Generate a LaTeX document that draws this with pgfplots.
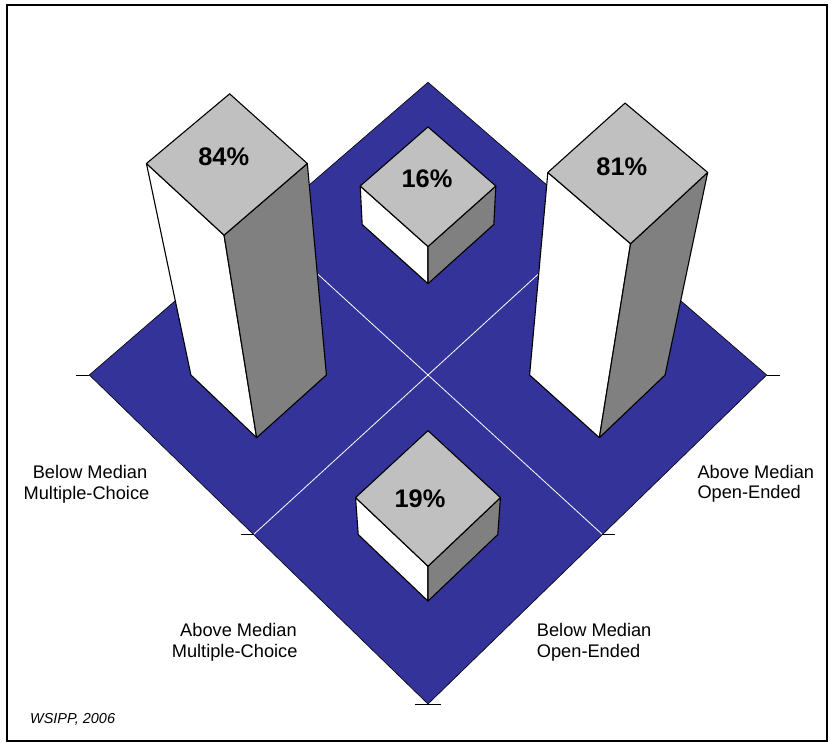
\documentclass[border=0pt]{standalone}
\usepackage{pgfplots}
\pgfplotsset{compat=1.18}
\usepackage{pgfplotstable}
\usepackage{fontspec}
\setmainfont{Liberation Sans}
\definecolor{floorblue}{HTML}{333399}
\definecolor{topgray}{HTML}{C0C0C0}
\definecolor{sidegray}{HTML}{808080}

% bar faces: offsets from the bar centre, zf = fraction of the bar height
\pgfplotstableread{
dx dy zf
-0.2 0 0
0 -0.2 0
0 -0.2 1
-0.2 0 1
-0.2 0 0
}\leftface
\pgfplotstableread{
dx dy zf
0 -0.2 0
0.2 0 0
0.2 0 1
0 -0.2 1
0 -0.2 0
}\rightface
\pgfplotstableread{
dx dy zf
-0.2 0 1
0 0.2 1
0.2 0 1
0 -0.2 1
-0.2 0 1
}\topface

\newcommand{\drawface}[5]{%
  \addplot[fill=#1, draw=black, line width=1.1bp, line join=round]
    table[x expr={px(#3+\thisrow{dx},#4+\thisrow{dy},#5*\thisrow{zf})},
          y expr={py(#3+\thisrow{dx},#4+\thisrow{dy},#5*\thisrow{zf})}] {#2};
}
\newcommand{\drawbar}[3]{%
  \drawface{white}{\leftface}{#1}{#2}{#3}
  \drawface{sidegray}{\rightface}{#1}{#2}{#3}
  \drawface{topgray}{\topface}{#1}{#2}{#3}
}
\newcommand{\lab}{\fontsize{18.3}{21}\selectfont}

\begin{document}
\begin{tikzpicture}[declare function={
  px(\X,\Y,\Z)=428+338.7*\X/(1+0.0584*\Y-0.00188*\Z);
  py(\X,\Y,\Z)=367+(309.8*\Y+2.12*\Z)/(1+0.0584*\Y-0.00188*\Z);}]
\begin{axis}[width=830bp, height=742bp, scale only axis,
  xmin=0, xmax=830, ymin=0, ymax=742, hide axis, clip=false]
\path (axis cs:0,0) rectangle (axis cs:830,742);
% frame
\draw[line width=2bp] (axis cs:6.5,1) rectangle (axis cs:826.5,736.5);

% floor
\addplot[fill=floorblue, draw=black, line width=0.6bp]
  table[x expr={px(\thisrow{X},\thisrow{Y},0)}, y expr={py(\thisrow{X},\thisrow{Y},0)}] {
X Y
-1 0
0 -1
1 0
0 1
-1 0
};
% dividing lines
\addplot[white, line width=0.8bp]
  table[x expr={px(\thisrow{X},\thisrow{Y},0)}, y expr={py(\thisrow{X},\thisrow{Y},0)}] {
X Y
-0.5 0.5
0.5 -0.5
};
\addplot[white, line width=0.8bp]
  table[x expr={px(\thisrow{X},\thisrow{Y},0)}, y expr={py(\thisrow{X},\thisrow{Y},0)}] {
X Y
0.5 0.5
-0.5 -0.5
};
% tick marks
\addplot[black, line width=0.7bp]
  table[x expr={px(\thisrow{X},\thisrow{Y},0)+\thisrow{off}}, y expr={py(\thisrow{X},\thisrow{Y},0)}] {
X Y off
-1 0 0
-1 0 -13
};
\addplot[black, line width=0.7bp]
  table[x expr={px(\thisrow{X},\thisrow{Y},0)+\thisrow{off}}, y expr={py(\thisrow{X},\thisrow{Y},0)}] {
X Y off
-0.5 -0.5 0
-0.5 -0.5 -13
};
\addplot[black, line width=0.7bp]
  table[x expr={px(\thisrow{X},\thisrow{Y},0)+\thisrow{off}}, y expr={py(\thisrow{X},\thisrow{Y},0)}] {
X Y off
0 -1 -13
0 -1 13
};
\addplot[black, line width=0.7bp]
  table[x expr={px(\thisrow{X},\thisrow{Y},0)+\thisrow{off}}, y expr={py(\thisrow{X},\thisrow{Y},0)}] {
X Y off
0.5 -0.5 0
0.5 -0.5 13
};
\addplot[black, line width=0.7bp]
  table[x expr={px(\thisrow{X},\thisrow{Y},0)+\thisrow{off}}, y expr={py(\thisrow{X},\thisrow{Y},0)}] {
X Y off
1 0 0
1 0 13
};

% bars: centre x, centre y, value (%)
\drawbar{0}{0.5}{16}
\drawbar{-0.5}{0}{84}
\drawbar{0.5}{0}{81}
\drawbar{0}{-0.5}{19}

% value labels
\begin{scope}[every node/.style={font=\fontsize{25.5}{30}\selectfont\bfseries, inner sep=0pt}]
\node at (axis cs:223.7,585.2) {84\%};
\node at (axis cs:621.8,575) {81\%};
\node at (axis cs:427,563) {16\%};
\node at (axis cs:420,243) {19\%};
\end{scope}

% category labels
\begin{scope}[every node/.style={font=\lab, inner sep=0pt}]
\node[anchor=base east] at (axis cs:147.5,263.7) {Below Median};
\node[anchor=base east] at (axis cs:149.5,242.7) {Multiple-Choice};
\node[anchor=base east] at (axis cs:297,105.3) {Above Median};
\node[anchor=base east] at (axis cs:297.7,84.7) {Multiple-Choice};
\node[anchor=base west] at (axis cs:536.7,105.3) {Below Median};
\node[anchor=base west] at (axis cs:536.7,84.7) {Open-Ended};
\node[anchor=base west] at (axis cs:697.3,263.7) {Above Median};
\node[anchor=base west] at (axis cs:697.3,243.7) {Open-Ended};
\end{scope}
\node[anchor=base west, inner sep=0pt, font=\fontsize{14.5}{17}\selectfont\itshape] at (axis cs:30,18.7) {WSIPP, 2006};
\end{axis}
\end{tikzpicture}
\end{document}
